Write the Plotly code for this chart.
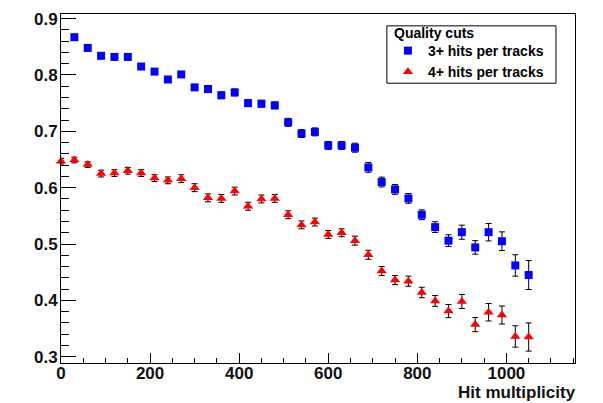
import plotly.graph_objects as go

# ---- data ----
blue_x = [30, 60, 90, 120, 150, 180, 210, 240, 270, 300, 330, 360, 390, 420, 450, 480,
          510, 540, 570, 600, 630, 660, 690, 720, 750, 780, 810, 840, 870, 900, 930, 960,
          990, 1020, 1050]
blue_y = [0.867, 0.848, 0.834, 0.832, 0.832, 0.815, 0.806, 0.792, 0.801, 0.778, 0.775,
          0.764, 0.769, 0.750, 0.749, 0.746, 0.716, 0.696, 0.699, 0.675, 0.675, 0.671,
          0.636, 0.610, 0.597, 0.581, 0.552, 0.530, 0.506, 0.521, 0.494, 0.521, 0.505,
          0.462, 0.445]
blue_err = [0.005, 0.005, 0.005, 0.005, 0.005, 0.005, 0.005, 0.005, 0.005, 0.005, 0.006,
            0.006, 0.006, 0.006, 0.006, 0.006, 0.007, 0.007, 0.007, 0.007, 0.007, 0.008,
            0.0087, 0.0087, 0.0087, 0.0087, 0.0087, 0.0096, 0.0105, 0.0125, 0.012, 0.0155,
            0.0166, 0.019, 0.0257]

red_x = [0, 30, 60, 90, 120, 150, 180, 210, 240, 270, 300, 330, 360, 390, 420, 450, 480,
         510, 540, 570, 600, 630, 660, 690, 720, 750, 780, 810, 840, 870, 900, 930, 960,
         990, 1020, 1050]
red_y = [0.647, 0.649, 0.641, 0.625, 0.626, 0.630, 0.626, 0.617, 0.613, 0.616, 0.600,
         0.582, 0.581, 0.594, 0.567, 0.580, 0.581, 0.552, 0.534, 0.539, 0.517, 0.520,
         0.506, 0.481, 0.452, 0.436, 0.434, 0.414, 0.399, 0.381, 0.398, 0.357, 0.379,
         0.374, 0.336, 0.335]
red_err = [0.005, 0.005, 0.005, 0.006, 0.006, 0.006, 0.006, 0.006, 0.006, 0.007, 0.007,
           0.007, 0.007, 0.007, 0.007, 0.007, 0.007, 0.007, 0.007, 0.007, 0.007, 0.007,
           0.008, 0.008, 0.008, 0.008, 0.009, 0.0093, 0.0096, 0.0117, 0.0125, 0.0125,
           0.0155, 0.016, 0.019, 0.025]

x_ticks = [0, 200, 400, 600, 800, 1000]
y_ticks = [0.3, 0.4, 0.5, 0.6, 0.7, 0.8, 0.9]
legend_title = "Quality cuts"

FONT = "Liberation Sans"
TICKFONT = dict(family=FONT, size=17, color="#111111", weight="bold")
LEGFONT = dict(family=FONT, size=14, color="black", weight="bold")

fig = go.Figure()
fig.add_trace(go.Scatter(
    x=blue_x, y=blue_y, mode="markers", name="3+ hits per tracks",
    marker=dict(symbol="square", size=8, color="#0000ff", line=dict(width=0)),
    error_y=dict(type="data", array=blue_err, color="black", thickness=1, width=3),
    cliponaxis=False,
))
fig.add_trace(go.Scatter(
    x=red_x, y=red_y, mode="markers", name="4+ hits per tracks",
    marker=dict(symbol="triangle-up", size=9, color="#ff0000", line=dict(width=0)),
    error_y=dict(type="data", array=red_err, color="black", thickness=1, width=3),
    cliponaxis=False,
))

fig.update_layout(
    width=603, height=403,
    margin=dict(l=61, r=28, t=10, b=40),
    paper_bgcolor="white", plot_bgcolor="white",
    font=dict(family=FONT, color="black"),
    showlegend=True,
    legend=dict(
        x=0.636, y=0.9397, xanchor="left", yanchor="top",
        bgcolor="rgba(0,0,0,0)", borderwidth=0,
        font=LEGFONT, tracegroupgap=0,
    ),
    shapes=[dict(
        type="rect", xref="paper", yref="paper",
        x0=0.634, x1=0.963, y0=0.8017, y1=0.966,
        line=dict(color="black", width=1), fillcolor="white", layer="above",
    )],
    xaxis=dict(
        range=[0, 1154], showgrid=False, zeroline=False,
        showline=True, linecolor="black", linewidth=1, mirror=True,
        tickmode="array", tickvals=x_ticks, ticks="inside", ticklen=10,
        tickcolor="black", tickwidth=1, ticklabelstandoff=-5,
        minor=dict(dtick=50, tick0=0, ticks="inside", ticklen=5, tickcolor="black", showgrid=False),
        tickfont=TICKFONT,
    ),
    yaxis=dict(
        range=[0.2889, 0.9082], showgrid=False, zeroline=False,
        showline=True, linecolor="black", linewidth=1, mirror=True,
        tickmode="array", tickvals=y_ticks, ticks="inside", ticklen=15,
        tickcolor="black", tickwidth=1, ticklabelstandoff=-1,
        minor=dict(dtick=0.02, tick0=0.3, ticks="inside", ticklen=8, tickcolor="black", showgrid=False),
        tickfont=TICKFONT,
    ),
    annotations=[
        dict(
            text="Hit multiplicity", x=1, xref="paper", xanchor="right", xshift=3,
            y=0, yref="paper", yanchor="top", yshift=-18, showarrow=False,
            font=TICKFONT,
        ),
        dict(
            text=legend_title, x=0.644, xref="paper", xanchor="left",
            y=0.9405, yref="paper", yanchor="middle", yshift=2, showarrow=False,
            font=LEGFONT,
        ),
    ],
)

fig.write_html("out.html")
